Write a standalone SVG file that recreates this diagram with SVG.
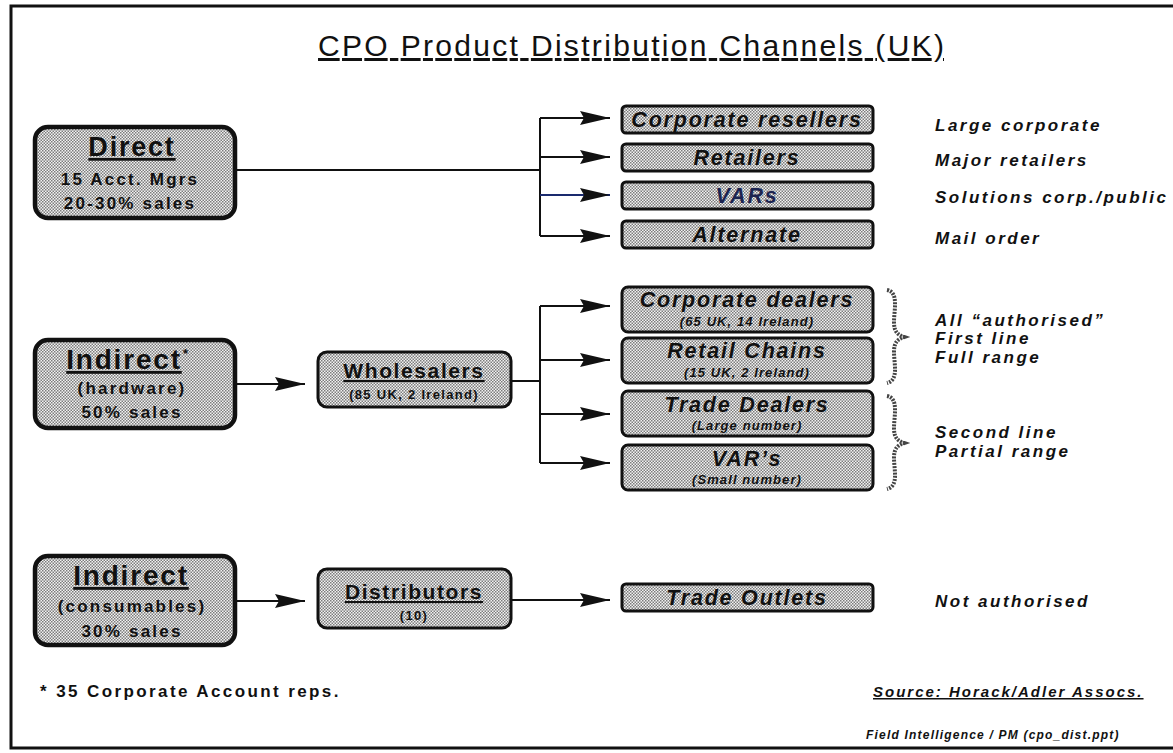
<svg xmlns="http://www.w3.org/2000/svg" width="1173" height="753" viewBox="0 0 1173 753">
<defs>
  <pattern id="stip" width="3" height="3" patternUnits="userSpaceOnUse">
    <rect width="3" height="3" fill="#f2f2f2"/>
    <rect width="1.5" height="1.5" fill="#7c7c7c"/>
    <rect x="1.5" y="1.5" width="1.5" height="1.5" fill="#7c7c7c"/>
  </pattern>
  <marker id="ah" viewBox="0 0 30 16" refX="30" refY="8" markerWidth="30" markerHeight="16" markerUnits="userSpaceOnUse" orient="auto">
    <path d="M0,1 L30,8 L0,15 L4,8 Z" fill="#111"/>
  </marker>
</defs>
<style>
  .big { fill: url(#stip); stroke: #111; stroke-width: 4.5; }
  .mid { fill: url(#stip); stroke: #111; stroke-width: 3; }
  .sm { fill: url(#stip); stroke: #111; stroke-width: 3; }
  text { font-family: "Liberation Sans", Arial, Helvetica, sans-serif; fill: #111; }
  .t1 { font-size: 27px; font-weight: bold; text-anchor: middle; text-decoration: underline; letter-spacing: 1.8px; }
  .t2 { font-size: 17px; font-weight: bold; text-anchor: middle; letter-spacing: 2.2px; }
  .tw { font-size: 21px; font-weight: bold; text-anchor: middle; text-decoration: underline; letter-spacing: 1.6px; }
  .tws { font-size: 13px; font-weight: bold; text-anchor: middle; letter-spacing: 1.3px; }
  .bx { font-size: 21.5px; font-weight: bold; font-style: italic; text-anchor: middle; letter-spacing: 1.8px; }
  .bxs { font-size: 13px; font-weight: bold; font-style: italic; text-anchor: middle; letter-spacing: 1.1px; }
  .lab { font-size: 17px; font-weight: bold; font-style: italic; letter-spacing: 2.5px; }
  .conn { stroke: #111; stroke-width: 2; fill: none; }
  .brace { stroke: #444; stroke-width: 4; fill: none; stroke-dasharray: 2 1.2; }
</style>
<rect width="1173" height="753" fill="#ffffff"/>
<!-- frame -->
<path d="M1173,6 L11,6 L11,748 L1173,748" fill="none" stroke="#111" stroke-width="3"/>

<!-- title -->
<text x="631" y="56" font-size="30" text-anchor="middle" text-decoration="underline" textLength="626" lengthAdjust="spacing">CPO Product Distribution Channels (UK)</text>

<!-- connectors -->
<g id="connectors">
  <path class="conn" d="M237,170 L540,170 M540,118 L540,236"/>
  <line class="conn" x1="540" y1="118" x2="610" y2="118" marker-end="url(#ah)"/>
  <line class="conn" x1="540" y1="157" x2="610" y2="157" marker-end="url(#ah)"/>
  <line x1="540" y1="195" x2="610" y2="195" stroke="#1a2a6e" stroke-width="2" marker-end="url(#ah)"/>
  <line class="conn" x1="540" y1="236" x2="610" y2="236" marker-end="url(#ah)"/>

  <line class="conn" x1="237" y1="384" x2="305" y2="384" marker-end="url(#ah)"/>
  <path class="conn" d="M512,381 L540,381 M540,306 L540,463"/>
  <line class="conn" x1="540" y1="306" x2="610" y2="306" marker-end="url(#ah)"/>
  <line class="conn" x1="540" y1="360" x2="610" y2="360" marker-end="url(#ah)"/>
  <line class="conn" x1="540" y1="414" x2="610" y2="414" marker-end="url(#ah)"/>
  <line class="conn" x1="540" y1="463" x2="610" y2="463" marker-end="url(#ah)"/>

  <line class="conn" x1="237" y1="601" x2="305" y2="601" marker-end="url(#ah)"/>
  <line class="conn" x1="512" y1="600" x2="610" y2="600" marker-end="url(#ah)"/>
</g>

<!-- left nodes -->
<g id="direct">
  <rect class="big" x="35" y="127" width="200" height="91" rx="13"/>
  <text class="t1" x="132" y="156">Direct</text>
  <text class="t2" x="130" y="185">15 Acct. Mgrs</text>
  <text class="t2" x="130" y="209">20-30% sales</text>
</g>
<g id="indirect-hw">
  <rect class="big" x="35" y="340" width="200" height="88" rx="13"/>
  <text class="t1" x="124" y="369" style="font-size:28px">Indirect</text>
  <text x="183" y="358" font-size="13" font-weight="bold">*</text>
  <text class="t2" x="132" y="394">(hardware)</text>
  <text class="t2" x="132" y="418">50% sales</text>
</g>
<g id="indirect-cons">
  <rect class="big" x="35" y="556" width="200" height="89" rx="13"/>
  <text class="t1" x="131" y="585" style="font-size:28px">Indirect</text>
  <text class="t2" x="132" y="612">(consumables)</text>
  <text class="t2" x="132" y="637">30% sales</text>
</g>

<!-- middle nodes -->
<g id="wholesalers">
  <rect class="mid" x="318" y="352" width="193" height="55" rx="9"/>
  <text class="tw" x="414" y="378">Wholesalers</text>
  <text class="tws" x="414" y="399">(85 UK, 2 Ireland)</text>
</g>
<g id="distributors">
  <rect class="mid" x="318" y="569" width="193" height="59" rx="9"/>
  <text class="tw" x="414" y="599">Distributors</text>
  <text class="tws" x="414" y="620">(10)</text>
</g>

<!-- right nodes -->
<g id="corporate-resellers">
  <rect class="sm" x="622" y="106" width="251" height="27" rx="4"/>
  <text class="bx" x="747" y="127">Corporate resellers</text>
</g>
<g id="retailers">
  <rect class="sm" x="622" y="144" width="251" height="27" rx="4"/>
  <text class="bx" x="747" y="165">Retailers</text>
</g>
<g id="vars">
  <rect class="sm" x="622" y="182" width="251" height="27" rx="4"/>
  <text class="bx" x="747" y="203" style="fill:#1c2450">VARs</text>
</g>
<g id="alternate">
  <rect class="sm" x="622" y="221" width="251" height="27" rx="4"/>
  <text class="bx" x="747" y="242">Alternate</text>
</g>

<g id="corporate-dealers">
  <rect class="sm" x="622" y="287" width="251" height="45" rx="6"/>
  <text class="bx" x="747" y="307">Corporate dealers</text>
  <text class="bxs" x="747" y="326">(65 UK, 14 Ireland)</text>
</g>
<g id="retail-chains">
  <rect class="sm" x="622" y="338" width="251" height="45" rx="6"/>
  <text class="bx" x="747" y="358">Retail Chains</text>
  <text class="bxs" x="747" y="377">(15 UK, 2 Ireland)</text>
</g>
<g id="trade-dealers">
  <rect class="sm" x="622" y="391" width="251" height="45" rx="6"/>
  <text class="bx" x="747" y="412">Trade Dealers</text>
  <text class="bxs" x="747" y="430">(Large number)</text>
</g>
<g id="vars2">
  <rect class="sm" x="622" y="445" width="251" height="45" rx="6"/>
  <text class="bx" x="747" y="466">VAR’s</text>
  <text class="bxs" x="747" y="484">(Small number)</text>
</g>

<g id="trade-outlets">
  <rect class="sm" x="622" y="584" width="251" height="27" rx="4"/>
  <text class="bx" x="747" y="605">Trade Outlets</text>
</g>

<!-- braces -->
<g id="braces">
  <path class="brace" d="M887,290 C899,292 894,310 894,322 C894,332 898,335 904,337 C898,339 894,342 894,352 C894,364 899,380 887,383"/>
  <path class="brace" d="M887,396 C899,398 894,416 894,428 C894,438 898,441 904,443 C898,445 894,448 894,458 C894,470 899,486 887,489"/>
</g>

<!-- right labels -->
<g id="labels">
  <text class="lab" x="935" y="131">Large corporate</text>
  <text class="lab" x="935" y="166">Major retailers</text>
  <text class="lab" x="935" y="203">Solutions corp./public</text>
  <text class="lab" x="935" y="244">Mail order</text>
  <text class="lab" x="935" y="326">All “authorised”</text>
  <text class="lab" x="935" y="344">First line</text>
  <text class="lab" x="935" y="363">Full range</text>
  <text class="lab" x="935" y="438">Second line</text>
  <text class="lab" x="935" y="457">Partial range</text>
  <text class="lab" x="935" y="607">Not authorised</text>
</g>

<!-- footnotes -->
<text x="40" y="697" font-size="17" font-weight="bold" letter-spacing="2.4">* 35 Corporate Account reps.</text>
<text x="873" y="697" font-size="15" font-weight="bold" font-style="italic" text-decoration="underline" letter-spacing="2">Source: Horack/Adler Assocs.</text>
<text x="866" y="739" font-size="12" font-weight="bold" font-style="italic" letter-spacing="1.2">Field Intelligence / PM (cpo_dist.ppt)</text>
</svg>
